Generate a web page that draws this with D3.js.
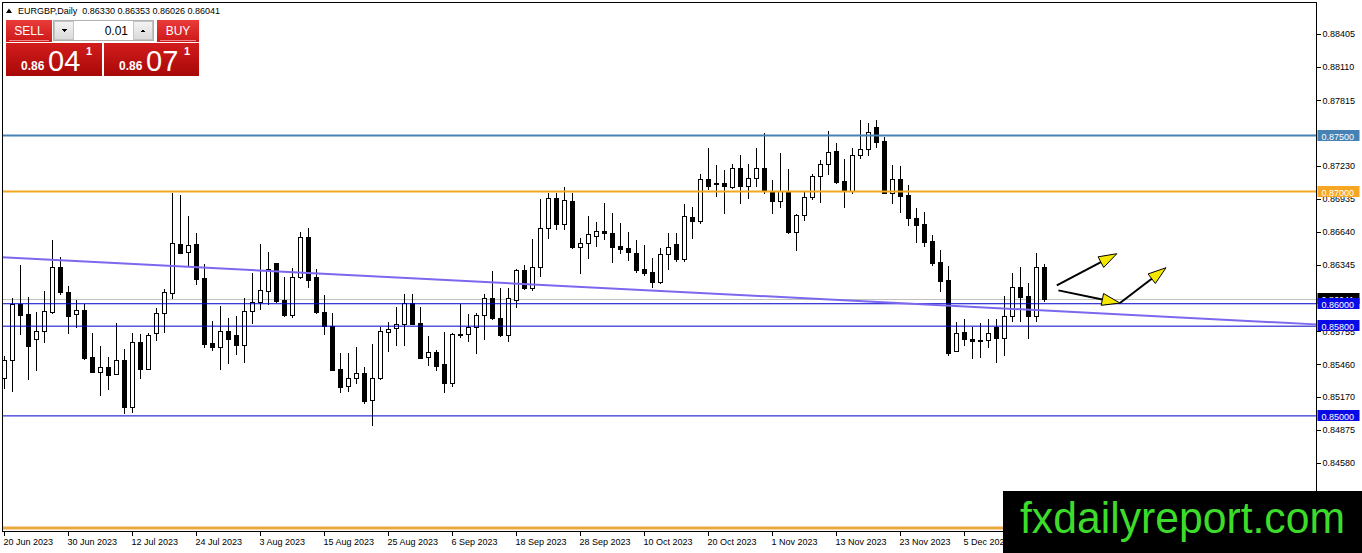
<!DOCTYPE html>
<html>
<head>
<meta charset="utf-8">
<script src="https://cdn.jsdelivr.net/npm/d3@7"></script>
<style>
  body { margin: 0; background: #fff; overflow: hidden; }
  svg { display: block; font-family: "Liberation Sans", Arial, sans-serif; }
</style>
</head>
<body>
<svg id="chart" width="1362" height="553"></svg>
<script>
// EURGBP daily bars, 20 Jun 2023 .. 18 Dec 2023
const symbolInfo = 'EURGBP,Daily  0.86330 0.86353 0.86026 0.86041';

const opens = [
  0.85340, 0.85500, 0.86000, 0.85911, 0.85688, 0.85759, 0.85929, 0.86330, 0.86107, 0.85911,
  0.85946, 0.85527, 0.85393, 0.85438, 0.85376, 0.85500, 0.85081, 0.85661, 0.85420, 0.85741,
  0.85920, 0.86098, 0.86535, 0.86464, 0.86535, 0.86232, 0.85652, 0.85616, 0.85759, 0.85723,
  0.85634, 0.85938, 0.86018, 0.86116, 0.86366, 0.86036, 0.85902, 0.86241, 0.86598, 0.86241,
  0.85929, 0.85804, 0.85420, 0.85269, 0.85340, 0.85384, 0.85144, 0.85340, 0.85750, 0.85786,
  0.85822, 0.86009, 0.85831, 0.85527, 0.85572, 0.85465, 0.85295, 0.85723, 0.85732, 0.85795,
  0.85902, 0.86054, 0.85875, 0.85723, 0.86036, 0.86303, 0.86143, 0.86330, 0.86678, 0.86946,
  0.86714, 0.86919, 0.86508, 0.86544, 0.86607, 0.86651, 0.86633, 0.86517, 0.86500, 0.86455,
  0.86312, 0.86285, 0.86196, 0.86446, 0.86535, 0.86401, 0.86776, 0.86740, 0.87115, 0.87079,
  0.87079, 0.87044, 0.87213, 0.87053, 0.87124, 0.87213, 0.87008, 0.86919, 0.87008, 0.86642,
  0.86794, 0.86954, 0.87142, 0.87249, 0.87365, 0.87097, 0.87008, 0.87329, 0.87383, 0.87579,
  0.87454, 0.86990, 0.87115, 0.86972, 0.86767, 0.86714, 0.86562, 0.86375, 0.86214, 0.85581,
  0.85750, 0.85688, 0.85679, 0.85679, 0.85795, 0.85697, 0.85893, 0.86152, 0.86071, 0.85893,
  0.86330
];
const highs = [
  0.85536, 0.86054, 0.86348, 0.86062, 0.85929, 0.86116, 0.86571, 0.86419, 0.86161, 0.86036,
  0.86000, 0.85741, 0.85625, 0.85527, 0.85831, 0.85599, 0.85741, 0.85732, 0.85741, 0.85964,
  0.86134, 0.86990, 0.86972, 0.86785, 0.86633, 0.86357, 0.85848, 0.85982, 0.85875, 0.85893,
  0.86054, 0.86277, 0.86535, 0.86464, 0.86366, 0.86241, 0.86321, 0.86642, 0.86678, 0.86312,
  0.86080, 0.85920, 0.85563, 0.85563, 0.85616, 0.85438, 0.85643, 0.85795, 0.85839, 0.85973,
  0.86089, 0.86089, 0.85973, 0.85715, 0.85590, 0.85750, 0.85741, 0.86000, 0.85911, 0.85920,
  0.86089, 0.86294, 0.86143, 0.86143, 0.86312, 0.86348, 0.86580, 0.86937, 0.86990, 0.86990,
  0.87044, 0.86990, 0.86589, 0.86785, 0.86731, 0.86901, 0.86812, 0.86723, 0.86642, 0.86571,
  0.86526, 0.86410, 0.86500, 0.86633, 0.86633, 0.86892, 0.86865, 0.87160, 0.87392, 0.87240,
  0.87195, 0.87249, 0.87329, 0.87249, 0.87392, 0.87525, 0.87106, 0.87347, 0.87204, 0.86803,
  0.86999, 0.87160, 0.87285, 0.87543, 0.87436, 0.87293, 0.87392, 0.87641, 0.87615, 0.87641,
  0.87490, 0.87240, 0.87231, 0.87061, 0.86856, 0.86821, 0.86616, 0.86482, 0.86339, 0.85839,
  0.85866, 0.85795, 0.85831, 0.85866, 0.85866, 0.86071, 0.86277, 0.86330, 0.86187, 0.86455,
  0.86353
];
const lows = [
  0.85251, 0.85224, 0.85732, 0.85331, 0.85411, 0.85661, 0.85920, 0.86089, 0.85741, 0.85795,
  0.85509, 0.85393, 0.85188, 0.85242, 0.85376, 0.85028, 0.85037, 0.85340, 0.85420, 0.85679,
  0.85750, 0.86054, 0.86455, 0.86348, 0.86178, 0.85616, 0.85590, 0.85420, 0.85474, 0.85554,
  0.85483, 0.85831, 0.85955, 0.86000, 0.86018, 0.85893, 0.85884, 0.86232, 0.86152, 0.85920,
  0.85732, 0.85411, 0.85215, 0.85224, 0.85295, 0.85117, 0.84921, 0.85331, 0.85581, 0.85634,
  0.85634, 0.85822, 0.85518, 0.85456, 0.85411, 0.85215, 0.85269, 0.85706, 0.85670, 0.85563,
  0.85688, 0.85866, 0.85715, 0.85670, 0.85973, 0.86134, 0.86125, 0.86250, 0.86589, 0.86669,
  0.86669, 0.86500, 0.86277, 0.86410, 0.86517, 0.86580, 0.86375, 0.86455, 0.86392, 0.86285,
  0.86259, 0.86152, 0.86187, 0.86312, 0.86384, 0.86384, 0.86589, 0.86723, 0.87026, 0.86963,
  0.86812, 0.87035, 0.86901, 0.86946, 0.87053, 0.86990, 0.86812, 0.86865, 0.86633, 0.86482,
  0.86749, 0.86937, 0.86910, 0.87160, 0.87079, 0.86865, 0.86990, 0.87302, 0.87329, 0.87400,
  0.86990, 0.86901, 0.86821, 0.86705, 0.86553, 0.86517, 0.86348, 0.86116, 0.85545, 0.85581,
  0.85634, 0.85518, 0.85527, 0.85616, 0.85483, 0.85545, 0.85848, 0.85848, 0.85697, 0.85848,
  0.86026
];
const closes = [
  0.85500, 0.86000, 0.85902, 0.85625, 0.85759, 0.85938, 0.86330, 0.86107, 0.85893, 0.85946,
  0.85518, 0.85393, 0.85438, 0.85367, 0.85500, 0.85081, 0.85661, 0.85420, 0.85723, 0.85920,
  0.86107, 0.86544, 0.86455, 0.86526, 0.86223, 0.85643, 0.85616, 0.85759, 0.85688, 0.85634,
  0.85938, 0.86018, 0.86125, 0.86312, 0.86027, 0.85902, 0.86241, 0.86598, 0.86214, 0.85929,
  0.85804, 0.85411, 0.85260, 0.85340, 0.85384, 0.85135, 0.85340, 0.85759, 0.85777, 0.85822,
  0.86009, 0.85822, 0.85518, 0.85572, 0.85447, 0.85295, 0.85732, 0.85732, 0.85795, 0.85902,
  0.86054, 0.85875, 0.85723, 0.86054, 0.86303, 0.86143, 0.86330, 0.86678, 0.86946, 0.86714,
  0.86928, 0.86508, 0.86544, 0.86624, 0.86651, 0.86633, 0.86508, 0.86491, 0.86464, 0.86303,
  0.86277, 0.86196, 0.86446, 0.86508, 0.86401, 0.86785, 0.86740, 0.87115, 0.87053, 0.87076,
  0.87053, 0.87213, 0.87053, 0.87124, 0.87213, 0.87008, 0.86919, 0.87008, 0.86642, 0.86794,
  0.86954, 0.87142, 0.87249, 0.87356, 0.87088, 0.87008, 0.87329, 0.87383, 0.87534, 0.87445,
  0.86990, 0.87115, 0.86963, 0.86767, 0.86705, 0.86553, 0.86366, 0.86205, 0.85563, 0.85741,
  0.85688, 0.85670, 0.85670, 0.85741, 0.85697, 0.85893, 0.86152, 0.86062, 0.85893, 0.86330,
  0.86041
];

// time axis: one label every 8 bars
const dateTickBars = [0, 8, 16, 24, 32, 40, 48, 56, 64, 72, 80, 88, 96, 104, 112, 120];
const dateLabels = ['20 Jun 2023', '30 Jun 2023', '12 Jul 2023', '24 Jul 2023', '3 Aug 2023',
  '15 Aug 2023', '25 Aug 2023', '6 Sep 2023', '18 Sep 2023', '28 Sep 2023', '10 Oct 2023',
  '20 Oct 2023', '1 Nov 2023', '13 Nov 2023', '23 Nov 2023', '5 Dec 2023'];

// visible price scale labels (the ones hidden under level tags are left out)
const priceTicks = [0.88405, 0.88110, 0.87815, 0.87230, 0.86935, 0.86640, 0.86345,
  0.85755, 0.85460, 0.85170, 0.84875, 0.84580];

// horizontal levels
const levelPrices = [0.875, 0.870, 0.860, 0.858, 0.850, 0.840];
const levelLabelled = [true, true, true, true, true, false];
const bidPrice = 0.86041;

// trend line anchors (bar, price)
const trendBars = [-0.25, 164];
const trendPrices = [0.86414, 0.85816];

// hand drawn arrows (bar, price)
const arrowPaths = [
  [[131.6, 0.86163], [139.1, 0.86446]],
  [[131.8, 0.86119], [139.5, 0.86006]],
  [[139.5, 0.86006], [145.25, 0.86321]]
];

const sellQuote = ['0.86', '04', '1'];
const buyQuote = ['0.86', '07', '1'];
const lotSize = '0.01';
const watermark = 'fxdailyreport.com';

// ---- styles
const levelColors = ['#4682b4', '#f5a623', '#0000cd', '#0000cd', '#0000cd', '#e9a93c'];
const levelWidths = [2, 2, 1, 1, 1, 3];

const svg = d3.select('#chart');
const chartLeft = 2.5, chartTop = 2.5, chartRight = 1316.5, chartBottom = 531.5;

const x = d3.scaleLinear().domain([0, 130]).range([4, 1044]);
const y = d3.scaleLinear().domain([0.84580, 0.88405]).range([463, 34]);

const bars = opens.map((o, i) => ({ i, o, h: highs[i], l: lows[i], c: closes[i] }));

// bid line behind everything
svg.append('line')
  .attr('x1', chartLeft).attr('x2', chartRight)
  .attr('y1', Math.round(y(bidPrice)) + 0.5).attr('y2', Math.round(y(bidPrice)) + 0.5)
  .attr('stroke', '#c0c0c0').attr('stroke-width', 1);

// candles
const candles = svg.append('g').attr('shape-rendering', 'crispEdges');

candles.selectAll('line.wick')
  .data(bars)
  .enter()
  .append('line')
  .attr('class', 'wick')
  .attr('x1', d => Math.round(x(d.i)) + 0.5)
  .attr('x2', d => Math.round(x(d.i)) + 0.5)
  .attr('y1', d => Math.round(y(d.h)))
  .attr('y2', d => Math.round(y(d.l)) + 1)
  .attr('stroke', '#000');

candles.selectAll('rect.body')
  .data(bars)
  .enter()
  .append('rect')
  .attr('class', 'body')
  .each(function(d) {
    const cx = Math.round(x(d.i));
    const top = Math.round(y(Math.max(d.o, d.c)));
    const bottom = Math.round(y(Math.min(d.o, d.c)));
    const h = Math.max(1, bottom - top);
    const sel = d3.select(this);
    if (d.c >= d.o) {
      sel.attr('x', cx - 1.5).attr('y', top + 0.5).attr('width', 4).attr('height', h)
        .attr('fill', '#fff').attr('stroke', '#000');
    } else {
      sel.attr('x', cx - 2).attr('y', top).attr('width', 5).attr('height', h + 1)
        .attr('fill', '#000');
    }
  });

// horizontal level lines
svg.selectAll('line.level')
  .data(levelPrices)
  .enter()
  .append('line')
  .attr('class', 'level')
  .attr('x1', chartLeft).attr('x2', chartRight)
  .attr('y1', d => y(d)).attr('y2', d => y(d))
  .attr('stroke', (d, i) => levelColors[i])
  .attr('stroke-width', (d, i) => levelWidths[i]);

// trend line
svg.append('line')
  .attr('x1', x(trendBars[0])).attr('y1', y(trendPrices[0]))
  .attr('x2', x(trendBars[1])).attr('y2', y(trendPrices[1]))
  .attr('stroke', '#7b68ee').attr('stroke-width', 2);

// arrows
const arrows = svg.append('g');
arrowPaths.forEach(p => {
  const x1 = x(p[0][0]), y1 = y(p[0][1]), x2 = x(p[1][0]), y2 = y(p[1][1]);
  const ang = Math.atan2(y2 - y1, x2 - x1);
  const len = 18, half = 6;
  const bx = x2 - Math.cos(ang) * len, by = y2 - Math.sin(ang) * len;
  arrows.append('line')
    .attr('x1', x1).attr('y1', y1).attr('x2', bx).attr('y2', by)
    .attr('stroke', '#000').attr('stroke-width', 2);
  const pts = [
    [x2, y2],
    [bx + Math.sin(ang) * half, by - Math.cos(ang) * half],
    [bx - Math.sin(ang) * half, by + Math.cos(ang) * half]
  ];
  arrows.append('polygon')
    .attr('points', pts.map(q => q.join(',')).join(' '))
    .attr('fill', '#f5e800').attr('stroke', '#000').attr('stroke-width', 1);
});

// frame
svg.append('rect')
  .attr('x', chartLeft).attr('y', chartTop)
  .attr('width', chartRight - chartLeft).attr('height', chartBottom - chartTop)
  .attr('fill', 'none').attr('stroke', '#000').attr('shape-rendering', 'crispEdges');

// price axis
const yAxis = d3.axisRight(y).tickValues(priceTicks).tickFormat(d3.format('.5f')).tickSize(4).tickPadding(2);
const yG = svg.append('g').attr('transform', `translate(${chartRight},0)`).call(yAxis);
yG.select('.domain').remove();
yG.selectAll('text').attr('font-size', 9).attr('font-family', '"Liberation Sans", Arial, sans-serif').attr('fill', '#000');
yG.selectAll('line').attr('stroke', '#000').attr('shape-rendering', 'crispEdges');

// axis price labels
function priceLabel(price, bg) {
  const g = svg.append('g').attr('transform', `translate(${chartRight + 1},${Math.round(y(price))})`);
  g.append('rect').attr('x', 0).attr('y', -6).attr('width', 42).attr('height', 11).attr('fill', bg);
  g.append('text').attr('x', 4).attr('y', 3.5).attr('font-size', 9).attr('fill', '#fff')
    .text(d3.format('.5f')(price));
}
priceLabel(bidPrice, '#000');
levelPrices.forEach((p, i) => { if (levelLabelled[i]) priceLabel(p, levelColors[i] === '#0000cd' ? '#0a0ae6' : levelColors[i]); });

// time axis
const xAxis = d3.axisBottom(x).tickValues(dateTickBars).tickFormat((d, i) => dateLabels[i]).tickSize(4).tickPadding(3);
const xG = svg.append('g').attr('transform', `translate(0,${chartBottom})`).call(xAxis);
xG.select('.domain').remove();
xG.selectAll('text').attr('font-size', 9).attr('font-family', '"Liberation Sans", Arial, sans-serif')
  .attr('fill', '#000').attr('text-anchor', 'start').attr('dx', -1);
xG.selectAll('line').attr('stroke', '#000').attr('shape-rendering', 'crispEdges');

// title
svg.append('path').attr('d', 'M6,13 L12,13 L9,8.5 Z').attr('fill', '#000');
svg.append('text').attr('x', 18).attr('y', 14).attr('font-size', 9).attr('fill', '#000')
  .attr('xml:space', 'preserve').style('white-space', 'pre').text(symbolInfo);

// one click trading panel
const defs = svg.append('defs');
const g1 = defs.append('linearGradient').attr('id', 'btnRed').attr('x1', 0).attr('y1', 0).attr('x2', 0).attr('y2', 1);
g1.append('stop').attr('offset', 0).attr('stop-color', '#ea3b3b');
g1.append('stop').attr('offset', 1).attr('stop-color', '#cc1818');
const g2 = defs.append('linearGradient').attr('id', 'quoteRed').attr('x1', 0).attr('y1', 0).attr('x2', 0).attr('y2', 1);
g2.append('stop').attr('offset', 0).attr('stop-color', '#d21c1c');
g2.append('stop').attr('offset', 1).attr('stop-color', '#a80808');
const g3 = defs.append('linearGradient').attr('id', 'btnGrey').attr('x1', 0).attr('y1', 0).attr('x2', 0).attr('y2', 1);
g3.append('stop').attr('offset', 0).attr('stop-color', '#f4f4f4');
g3.append('stop').attr('offset', 1).attr('stop-color', '#d9d9d9');

const panel = svg.append('g').attr('shape-rendering', 'crispEdges');
[[6, 'SELL'], [157, 'BUY']].forEach(([px, label]) => {
  const w = label === 'SELL' ? 46 : 42;
  panel.append('rect').attr('x', px).attr('y', 20).attr('width', w).attr('height', 22).attr('fill', 'url(#btnRed)');
  panel.append('line').attr('x1', px + 3).attr('x2', px + w - 3).attr('y1', 40.5).attr('y2', 40.5)
    .attr('stroke', '#f08a8a');
  panel.append('text').attr('x', px + w / 2).attr('y', 35).attr('text-anchor', 'middle')
    .attr('font-size', 12).attr('fill', '#fff').text(label);
});

panel.append('rect').attr('x', 53.5).attr('y', 20.5).attr('width', 100).attr('height', 20)
  .attr('fill', '#fff').attr('stroke', '#b0b0b0');
panel.append('rect').attr('x', 54.5).attr('y', 21.5).attr('width', 19).attr('height', 18)
  .attr('fill', 'url(#btnGrey)').attr('stroke', '#c4c4c4');
panel.append('rect').attr('x', 133.5).attr('y', 21.5).attr('width', 19).attr('height', 18)
  .attr('fill', 'url(#btnGrey)').attr('stroke', '#c4c4c4');
panel.append('path').attr('d', 'M62,29 L67,29 L64.5,32 Z').attr('fill', '#000');
panel.append('path').attr('d', 'M140.5,32 L145.5,32 L143,29 Z').attr('fill', '#000');
panel.append('text').attr('x', 128).attr('y', 35).attr('text-anchor', 'end')
  .attr('font-size', 12).attr('fill', '#000').text(lotSize);

[[6, 96, sellQuote], [104, 95, buyQuote]].forEach(([px, w, q]) => {
  panel.append('rect').attr('x', px).attr('y', 43).attr('width', w).attr('height', 33).attr('fill', 'url(#quoteRed)');
  panel.append('text').attr('x', px + 15).attr('y', 70).attr('font-size', 12).attr('font-weight', 'bold')
    .attr('fill', '#fff').text(q[0]);
  panel.append('text').attr('x', px + 42).attr('y', 71).attr('font-size', 29)
    .attr('fill', '#fff').text(q[1]);
  panel.append('text').attr('x', px + 80).attr('y', 55).attr('font-size', 11).attr('font-weight', 'bold')
    .attr('fill', '#fff').text(q[2]);
});

// watermark
svg.append('rect').attr('x', 1003).attr('y', 491).attr('width', 359).attr('height', 62).attr('fill', '#000');
svg.append('text').attr('x', 1020).attr('y', 533).attr('font-size', 45)
  .attr('textLength', 325).attr('lengthAdjust', 'spacingAndGlyphs')
  .attr('fill', '#3ddc2a').text(watermark);
</script>
</body>
</html>
